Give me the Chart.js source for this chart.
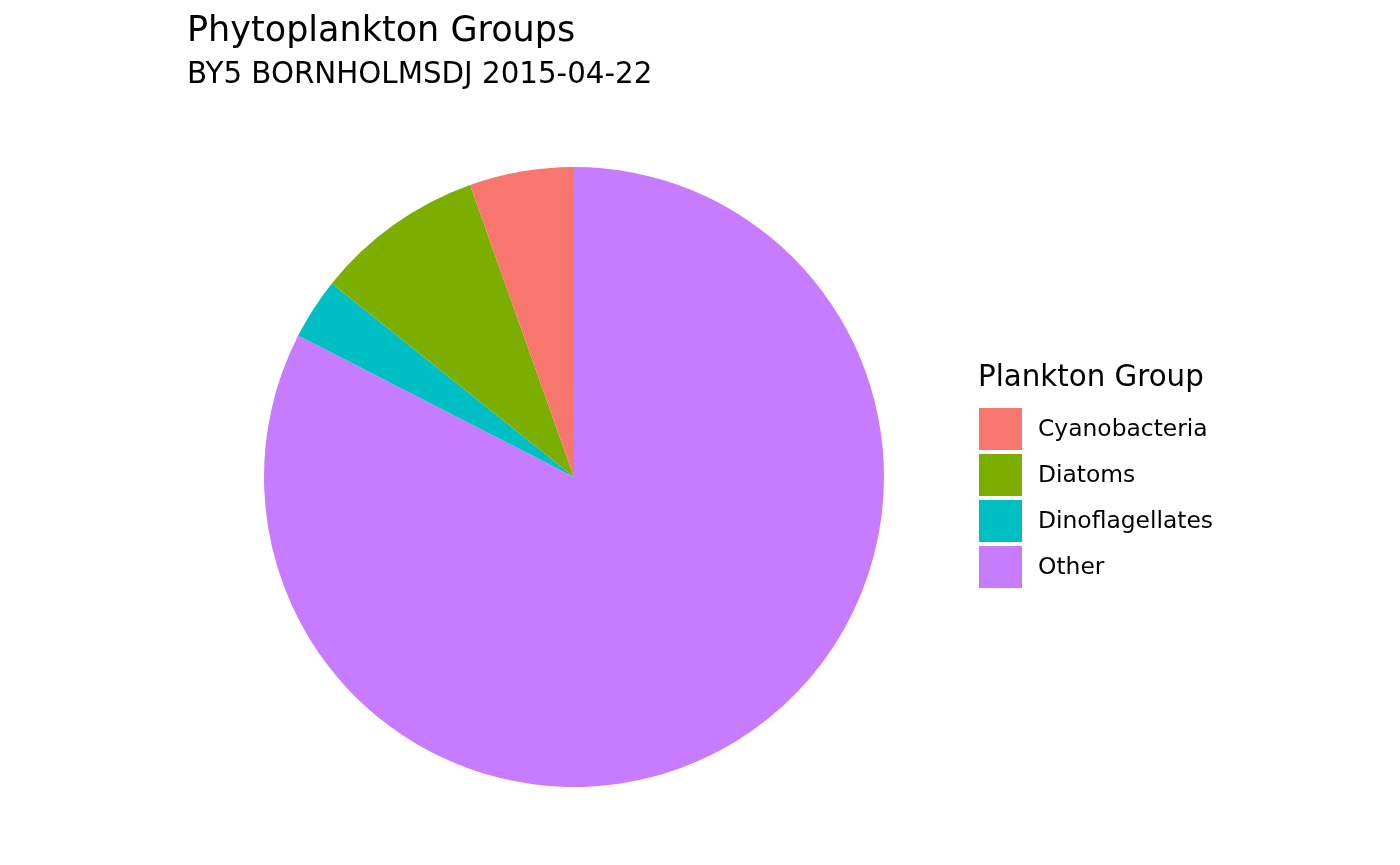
<!DOCTYPE html>
<html>
<head>
<meta charset="utf-8">
<script src="https://cdn.jsdelivr.net/npm/chart.js@4/dist/chart.umd.min.js"></script>
<style>
  html, body { margin: 0; padding: 0; background: #fff; }
  #wrap { position: relative; width: 1400px; height: 865px; font-family: "DejaVu Sans", sans-serif; color: #000; }
  canvas { position: absolute; left: 0; top: 0; }
  .t { position: absolute; white-space: nowrap; line-height: 1; }
  .key { position: absolute; width: 43px; height: 42px; }
</style>
</head>
<body>
<div id="wrap">
  <canvas id="c" width="1400" height="865"></canvas>
  <div class="t" id="title" style="left:187px; top:12.3px; font-size:35px;"></div>
  <div class="t" id="subtitle" style="left:187px; top:58.5px; font-size:29.3px;"></div>
  <div class="t" id="legtitle" style="left:978px; top:361.5px; font-size:29.3px;"></div>
  <div id="legend"></div>
</div>
<script>
const titleText = "Phytoplankton Groups";
const subtitleText = "BY5 BORNHOLMSDJ 2015-04-22";
const legendTitle = "Plankton Group";
const categories = ["Cyanobacteria", "Diatoms", "Dinoflagellates", "Other"];
const values = [5.44, 8.83, 3.19, 82.54];
const colors = ["#F8766D", "#7CAE00", "#00BFC4", "#C77CFF"];

document.getElementById('title').textContent = titleText;
document.getElementById('subtitle').textContent = subtitleText;
document.getElementById('legtitle').textContent = legendTitle;

const leg = document.getElementById('legend');
categories.forEach((c, i) => {
  const k = document.createElement('div');
  k.className = 'key';
  k.style.left = '979px';
  k.style.top = (408 + i * 46) + 'px';
  k.style.background = colors[i];
  leg.appendChild(k);
  const t = document.createElement('div');
  t.className = 't';
  t.style.left = '1038px';
  t.style.top = (416.8 + i * 46) + 'px';
  t.style.fontSize = '23.4px';
  t.textContent = c;
  leg.appendChild(t);
});

// ggplot coord_polar draws counter-clockwise; Chart.js draws clockwise, so reverse order
const chartLabels = categories.slice().reverse();
const chartValues = values.slice().reverse();
const chartColors = colors.slice().reverse();

new Chart(document.getElementById('c'), {
  type: 'pie',
  data: {
    labels: chartLabels,
    datasets: [{
      data: chartValues,
      backgroundColor: chartColors,
      borderWidth: 0
    }]
  },
  options: {
    responsive: false,
    animation: false,
    devicePixelRatio: 1,
    layout: { padding: { left: 264, top: 167, right: 516, bottom: 78 } },
    plugins: { legend: { display: false }, tooltip: { enabled: false }, title: { display: false } }
  }
});
</script>
</body>
</html>
